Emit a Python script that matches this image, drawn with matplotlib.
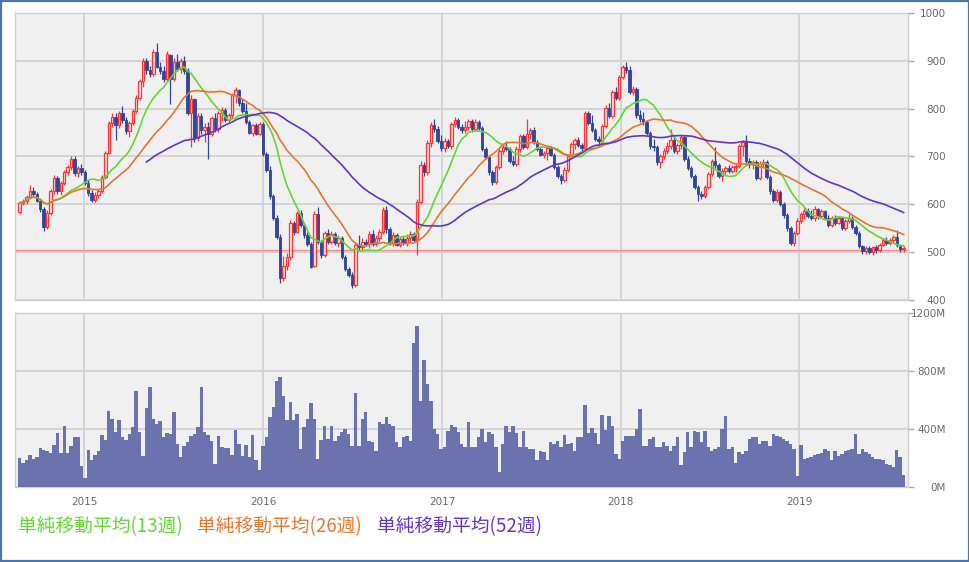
import numpy as np
import pandas as pd
import matplotlib
matplotlib.use("Agg")
import matplotlib.pyplot as plt
import matplotlib.dates as mdates
from matplotlib.patches import Rectangle

# ---------------- data (weekly) ----------------
start_week = "2014-08-22"

opens = [585,603,606,616,628,622,608,590,552,582,628,655,628,645,668,678,695,665,676,668,
         645,624,610,620,628,658,708,770,783,766,790,776,754,770,796,822,858,900,880,872,
         918,888,878,862,912,862,898,882,900,878,790,820,738,785,755,762,748,780,758,790,
         798,776,786,828,838,812,795,772,750,765,748,768,705,672,618,572,532,445,472,490,
         562,542,582,556,535,518,472,580,522,494,540,522,538,520,530,490,465,452,432,515,
         510,522,518,538,518,530,542,588,548,520,535,515,528,520,530,538,526,605,682,668,
         728,766,758,732,718,732,722,768,776,762,756,762,774,758,772,760,716,698,668,646,
         678,712,720,716,690,685,716,742,720,748,756,730,716,704,708,718,704,678,660,650,
         672,702,726,734,724,718,790,770,756,736,732,764,802,784,835,822,866,888,880,834,
         842,786,778,772,750,722,720,688,700,712,722,734,712,724,740,694,676,660,636,622,
         618,636,664,690,682,660,670,676,670,678,680,722,730,690,684,688,656,684,688,658,
         628,610,626,600,578,550,520,540,566,580,586,576,572,590,576,586,572,556,572,562,
         572,550,566,572,552,540,512,502,508,500,510,504,516,526,520,526,532,514,506]
highs = [608,612,620,640,636,626,612,594,588,632,662,660,648,672,682,700,702,680,684,672,
         650,630,626,632,662,712,775,790,790,795,805,782,775,800,828,862,905,906,890,925,
         937,898,890,920,915,905,915,905,910,884,828,822,790,790,770,772,785,790,795,804,
         802,790,832,845,842,820,812,776,768,770,772,772,710,680,622,578,538,492,498,568,
         566,586,588,560,542,522,586,595,526,545,548,545,542,535,534,494,470,458,520,535,
         530,528,545,546,535,548,595,596,552,542,540,532,534,538,545,542,612,690,688,735,
         772,778,764,745,738,736,772,782,780,768,774,778,778,778,776,764,720,702,672,682,
         716,726,732,720,700,722,746,748,778,760,762,734,720,712,722,722,708,682,664,678,
         706,730,738,740,728,795,796,786,760,742,768,808,812,840,846,870,892,897,890,848,
         846,798,792,776,754,736,724,706,718,730,758,740,728,745,744,700,680,664,640,628,
         640,668,695,720,686,676,680,682,682,686,726,735,745,696,692,692,690,695,692,662,
         632,632,630,604,582,554,545,572,585,592,592,588,596,592,590,588,578,576,578,576,
         574,570,580,576,556,544,516,512,512,512,514,520,530,532,530,536,546,518,512]
lows = [580,598,600,612,618,604,585,545,548,578,622,622,620,640,662,672,660,658,662,640,
        618,604,604,614,624,654,705,762,735,760,770,748,740,765,790,818,845,872,866,868,
        884,872,855,858,810,858,878,875,872,786,719,730,732,748,730,695,742,752,752,775,
        772,770,780,812,806,790,768,746,742,744,745,700,668,612,568,528,435,440,462,484,
        536,540,552,530,512,466,470,518,488,490,518,518,515,510,486,460,448,426,428,505,
        505,512,508,512,512,522,538,540,515,512,512,510,515,512,522,522,494,600,660,662,
        720,752,728,712,710,718,715,762,758,750,750,756,752,754,756,712,694,662,640,642,
        674,706,712,686,680,680,710,716,716,736,726,712,700,696,692,700,674,655,642,646,
        668,698,716,720,712,714,766,752,732,726,728,760,780,780,818,818,862,874,830,828,
        780,772,766,744,716,712,682,676,694,705,716,708,706,716,690,672,655,632,608,612,
        614,632,660,676,656,648,664,666,666,668,676,700,684,676,674,650,650,676,654,622,
        604,604,596,572,545,514,512,536,560,570,572,568,566,570,572,568,552,552,556,558,
        546,546,560,548,536,508,496,496,496,494,498,500,512,516,514,520,510,500,500]
closes = [603,606,616,628,622,608,590,552,582,628,655,628,645,668,678,695,665,676,668,645,
          624,610,620,628,658,708,770,783,766,790,776,754,770,796,822,858,900,880,872,918,
          888,878,862,915,862,898,882,900,878,790,820,738,785,755,762,748,780,758,790,798,
          776,786,828,838,812,795,772,750,765,748,768,705,672,618,572,532,445,472,490,562,
          542,582,556,535,518,470,580,522,494,540,522,538,520,530,490,465,452,432,515,510,
          522,518,538,518,530,542,588,548,520,535,515,528,520,530,538,526,605,682,668,728,
          766,758,732,718,732,722,768,776,762,756,762,774,758,772,760,716,698,668,646,678,
          712,720,716,690,685,716,742,720,748,756,730,716,704,708,718,704,678,660,650,672,
          702,726,734,724,718,790,770,756,736,732,764,802,784,835,822,866,888,880,834,842,
          786,778,772,750,722,720,688,700,712,722,734,712,724,740,694,676,660,636,622,618,
          636,664,690,682,660,670,676,670,678,680,722,730,690,684,688,656,684,688,658,628,
          610,626,600,578,550,520,540,566,580,586,576,572,590,576,586,572,556,572,562,572,
          550,566,572,552,540,512,502,508,500,510,504,516,526,520,526,532,514,506,508]
volumes_m = [201,165,183,224,194,206,267,256,251,233,293,370,233,423,233,286,347,343,144,62,
             258,187,224,251,361,325,526,469,377,464,347,325,366,411,663,377,217,542,690,469,
             434,457,343,370,366,519,297,210,286,309,350,366,411,690,377,361,320,160,354,274,
             267,267,224,393,297,217,293,206,359,183,114,286,343,480,549,731,761,629,462,583,
             464,503,263,411,469,576,469,190,325,423,
             333,423,320,354,377,400,366,286,651,286,469,514,320,309,251,446,434,480,434,423,
             309,274,343,354,320,994,1109,594,873,709,594,400,366,263,274,389,427,416,377,297,
             279,446,274,274,343,400,309,382,366,274,103,297,423,377,421,370,274,384,274,263,
             263,187,251,240,183,309,297,320,279,361,297,302,251,343,343,567,370,407,370,297,
             498,393,489,423,229,194,320,354,354,
             354,400,537,286,286,331,343,274,274,309,286,251,286,343,149,240,377,274,389,377,
             309,389,274,251,263,274,400,491,263,274,165,240,229,251,331,343,343,297,320,320,
             286,366,354,343,331,320,297,263,73,293,194,201,210,224,229,233,263,251,183,251,
             217,229,251,256,263,366,229,263,240,229,206,194,194,183,160,149,137,256,210,80]

last_price = 505
price_ticks = [400, 500, 600, 700, 800, 900, 1000]
volume_ticks = [0, 400, 800, 1200]
year_labels = ["2015", "2016", "2017", "2018", "2019"]
ma_periods = [13, 26, 52]
ma_labels = ["単純移動平均(13週)", "単純移動平均(26週)", "単純移動平均(52週)"]

# ---------------- styling ----------------
RED = "#ff3535"
RED_FILL = "#fbe2e2"
BLUE = "#33449a"
VOL = "#6b72ad"
MA_COLORS = ["#66d633", "#e8772e", "#6236c8"]
GRID = "#d3d3d3"
BG = "#f0f0f0"
TXT = "#6a6a6a"
CJK = ["Noto Sans CJK JP", "DejaVu Sans"]

assert len(opens) == len(highs) == len(lows) == len(closes) == len(volumes_m)

dates = pd.date_range(start_week, periods=len(closes), freq="7D")
x = mdates.date2num(dates)
o = np.array(opens, float); h = np.array(highs, float)
l = np.array(lows, float); c = np.array(closes, float)
v = np.array(volumes_m, float)

s = pd.Series(c)
ma = {
    13: s.rolling(13, min_periods=1).mean(),
    26: s.rolling(26, min_periods=1).mean(),
    52: s.rolling(52, min_periods=38).mean(),
}

W, H = 970, 562
fig = plt.figure(figsize=(W / 100, H / 100), dpi=100)
fig.patch.set_facecolor("white")

ax = fig.add_axes([15 / W, 1 - 300 / H, 893 / W, 287 / H])
axv = fig.add_axes([15 / W, 1 - 487 / H, 893 / W, 174 / H])

year_locs = mdates.date2num(pd.to_datetime([f"{y}-01-01" for y in year_labels]))
xlim = (x[0] - 9.6, x[-1] + 9.0)

for a in (ax, axv):
    a.set_facecolor(BG)
    a.set_xlim(*xlim)
    a.set_xticks(year_locs)
    a.grid(True, color=GRID, lw=1.3, zorder=0)
    a.set_axisbelow(True)
    for sp in a.spines.values():
        sp.set_color("#cfcfcf")
        sp.set_linewidth(1.0)
    a.yaxis.tick_right()

# candles
up = c >= o
dn = ~up
ax.vlines(x[up], l[up], h[up], color=RED, lw=0.9, zorder=3)
ax.vlines(x[dn], l[dn], h[dn], color=BLUE, lw=0.9, zorder=3)
ax.bar(x[up], np.maximum(c[up] - o[up], 0.8), bottom=o[up], width=5.0,
       facecolor=RED_FILL, edgecolor=RED, lw=0.9, zorder=4)
ax.bar(x[dn], np.maximum(o[dn] - c[dn], 0.8), bottom=c[dn], width=5.0,
       facecolor=BLUE, edgecolor=BLUE, lw=0.6, zorder=4)

ax.axhline(last_price, color="#ff8f8f", lw=1.0, zorder=2)

for p, col in zip(ma_periods, MA_COLORS):
    ax.plot(x, ma[p].values, color=col, lw=1.2, zorder=5)

ax.set_ylim(price_ticks[0], price_ticks[-1])
ax.set_yticks(price_ticks)
ax.set_yticklabels([str(t) for t in price_ticks])
ax.tick_params(axis="y", direction="out", length=4, width=1, color="#aaaaaa",
               labelcolor=TXT, labelsize=7.5, pad=23.5)
ax.tick_params(axis="x", length=0, labelbottom=False)
for t in ax.get_yticklabels():
    t.set_horizontalalignment("right")

# volume
axv.bar(x, v, width=7.0, color=VOL, lw=0, zorder=3)
axv.set_ylim(volume_ticks[0], volume_ticks[-1])
axv.set_yticks(volume_ticks)
axv.set_yticklabels([f"{t}M" for t in volume_ticks])
axv.tick_params(axis="y", direction="out", length=4, width=1, color="#aaaaaa",
                labelcolor=TXT, labelsize=7.5, pad=23.5)
for t in axv.get_yticklabels():
    t.set_horizontalalignment("right")
axv.set_xticklabels(year_labels)
axv.tick_params(axis="x", length=0, pad=7, labelsize=7.5, labelcolor=TXT)

# legend texts
for xp, lab, col in zip([18, 197, 377], ma_labels, MA_COLORS):
    fig.text(xp / W, 1 - 527 / H, lab, color=col, fontsize=13.5, family=CJK,
             ha="left", va="center")

fig.patches.append(Rectangle((0.001, 0.001), 0.998, 0.997, transform=fig.transFigure,
                             fill=False, edgecolor="#4e78a8", lw=1.6))

fig.savefig("out.png", dpi=100, facecolor="white")
